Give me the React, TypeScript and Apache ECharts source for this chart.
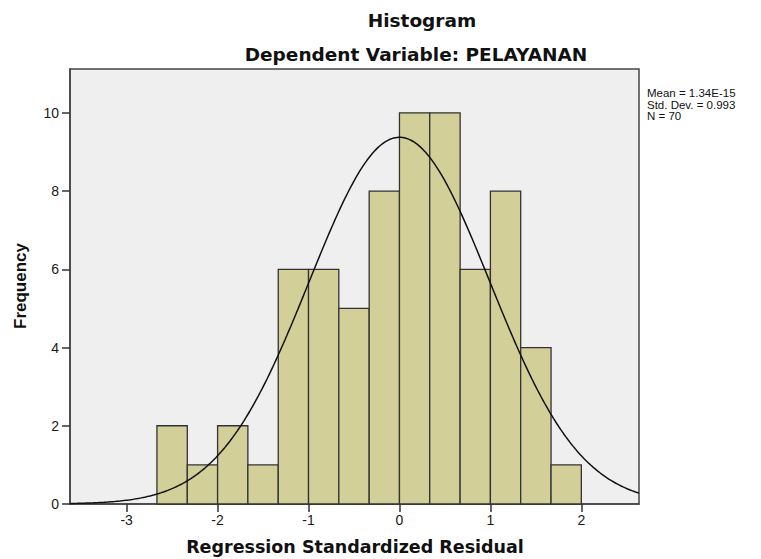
import React, { useEffect, useRef } from "react";
import * as echarts from "echarts";

// ---- data ----
const binEdges = [-2.667, -2.333, -2.0, -1.667, -1.333, -1.0, -0.667, -0.333, 0, 0.333, 0.667, 1.0, 1.333, 1.667, 2.0];
const binCounts = [2, 1, 2, 1, 6, 6, 5, 8, 10, 10, 6, 8, 4, 1];
const xTicks = [-3, -2, -1, 0, 1, 2];
const yTicks = [0, 2, 4, 6, 8, 10];
const statsLines = ["Mean = 1.34E-15", "Std. Dev. = 0.993", "N = 70"];
const mean = 1.34e-15;
const stdDev = 0.993;
const nObs = 70;
const binWidth = 1 / 3;
const xMin = -3.623;
const xMax = 2.634;
const yMax = 11.12;

// fitted normal curve defined by the stated mean / std. dev. / N
function normalCurve(): number[][] {
  const pts: number[][] = [];
  const steps = 320;
  for (let i = 0; i <= steps; i++) {
    const x = xMin + ((xMax - xMin) * i) / steps;
    const z = (x - mean) / stdDev;
    const y = (nObs * binWidth * Math.exp(-0.5 * z * z)) / (stdDev * Math.sqrt(2 * Math.PI));
    pts.push([x, y]);
  }
  return pts;
}

const histData = binCounts.map((c, i) => [binEdges[i], binEdges[i + 1], c]);

export default function App() {
  const ref = useRef<HTMLDivElement>(null);
  useEffect(() => {
    if (!ref.current) return;
    const chart = echarts.init(ref.current, undefined, { renderer: "svg" });
    const axisColor = "#444";
    const option: any = {
      animation: false,
      backgroundColor: "#ffffff",
      grid: {
        left: 70,
        right: 122,
        top: 69,
        bottom: 55,
        show: true,
        backgroundColor: "#efefef",
        borderColor: axisColor,
        borderWidth: 1.5,
      },
      xAxis: {
        type: "value",
        min: xMin,
        max: xMax,
        axisLine: { show: true, onZero: false, lineStyle: { color: axisColor, width: 1.5 } },
        axisTick: { show: true, length: 8, customValues: xTicks, lineStyle: { color: "#333", width: 1.5 } },
        axisLabel: {
          customValues: xTicks,
          margin: 9,
          color: "#1a1a1a",
          fontFamily: "Liberation Sans, Arial, sans-serif",
          fontSize: 14,
        },
        splitLine: { show: false },
      },
      yAxis: {
        type: "value",
        min: 0,
        max: yMax,
        axisLine: { show: true, onZero: false, lineStyle: { color: axisColor, width: 1.5 } },
        axisTick: { show: true, length: 8, customValues: yTicks, lineStyle: { color: "#333", width: 1.5 } },
        axisLabel: {
          customValues: yTicks,
          margin: 11,
          color: "#1a1a1a",
          fontFamily: "Liberation Sans, Arial, sans-serif",
          fontSize: 14,
        },
        splitLine: { show: false },
      },
      series: [
        {
          type: "custom",
          data: histData,
          encode: { x: [0, 1], y: 2 },
          renderItem: (params: any, api: any) => {
            const x0 = api.value(0);
            const x1 = api.value(1);
            const c = api.value(2);
            const p0 = api.coord([x0, c]);
            const p1 = api.coord([x1, 0]);
            return {
              type: "rect",
              shape: { x: p0[0], y: p0[1], width: p1[0] - p0[0], height: p1[1] - p0[1] },
              style: { fill: "#d3cf98", stroke: "#333", lineWidth: 1.3 },
            };
          },
          z: 2,
        },
        {
          type: "line",
          data: normalCurve(),
          showSymbol: false,
          smooth: false,
          lineStyle: { color: "#111", width: 1.5 },
          z: 3,
        },
      ],
      graphic: [
        {
          type: "text",
          x: 422,
          y: 20,
          style: {
            text: "Histogram",
            font: "bold 18.5px 'DejaVu Sans', sans-serif",
            fill: "#111",
            textAlign: "center",
            textVerticalAlign: "middle",
          },
        },
        {
          type: "text",
          x: 416,
          y: 54,
          style: {
            text: "Dependent Variable: PELAYANAN",
            font: "bold 18.5px 'DejaVu Sans', sans-serif",
            fill: "#111",
            textAlign: "center",
            textVerticalAlign: "middle",
          },
        },
        {
          type: "text",
          x: 355,
          y: 547,
          style: {
            text: "Regression Standardized Residual",
            font: "bold 17.5px 'DejaVu Sans', sans-serif",
            fill: "#111",
            textAlign: "center",
            textVerticalAlign: "middle",
          },
        },
        {
          type: "text",
          x: 20,
          y: 286,
          rotation: Math.PI / 2,
          style: {
            text: "Frequency",
            font: "bold 17px 'Liberation Sans', Arial, sans-serif",
            fill: "#111",
            textAlign: "center",
            textVerticalAlign: "middle",
          },
        },
        ...statsLines.map((t, i) => ({
          type: "text",
          x: 647,
          y: 93 + i * 11.5,
          style: {
            text: t,
            font: "11.5px 'Liberation Sans', Arial, sans-serif",
            fill: "#111",
            textAlign: "left",
            textVerticalAlign: "middle",
          },
        })),
      ],
    };
    chart.setOption(option);
    return () => chart.dispose();
  }, []);
  return (
    <div
      ref={ref}
      style={{ position: "absolute", left: 0, top: 0, width: 761, height: 559 }}
    />
  );
}
